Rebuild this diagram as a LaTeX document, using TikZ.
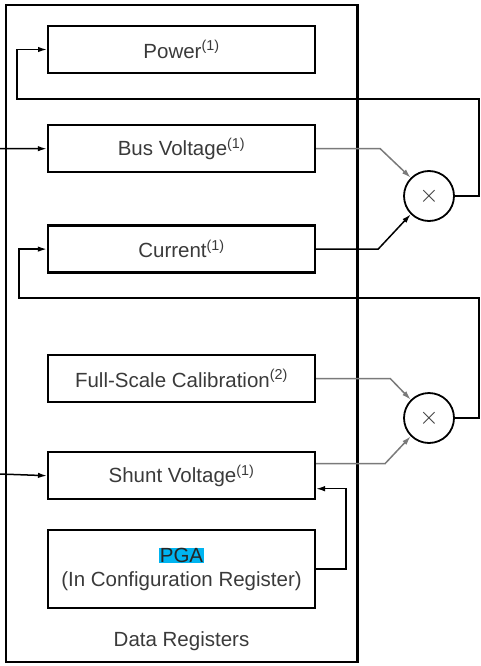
\documentclass[tikz,border=0pt]{standalone}
\usepackage{fontspec}
\setmainfont{Liberation Sans}
\usepackage{xcolor}
\usetikzlibrary{arrows.meta,positioning}
\definecolor{txt}{HTML}{3A3A3A}
\definecolor{pgablue}{RGB}{0,180,240}
\definecolor{wire}{HTML}{7A7A7A}

\begin{document}
\begin{tikzpicture}[
  x=1pt, y=-1pt,
  font=\fontsize{20.5}{25}\selectfont, text=txt,
  node distance=50pt,
  reg/.style={draw, line width=2pt, minimum width=267pt, minimum height=47pt, inner sep=0pt, align=center},
  mul/.style={circle, draw, line width=1.8pt, minimum size=50pt, inner sep=0pt, font=\fontsize{26}{26}\selectfont},
  arr/.style={-{Latex[length=9pt,width=5.5pt]}, line width=1.5pt},
  garr/.style={arr, draw=wire}
]
\useasboundingbox (0,0) rectangle (480,666);

% Data register block
\node[draw, line width=1.8pt, minimum width=351pt, minimum height=657pt] (regs) at (181.5,333.5) {};
\draw[line width=3pt] (regs.north east) -- (regs.south east);

\node[reg] (power) at (181.5,49.5) {Power\textsuperscript{(1)}};
\node[reg, line width=2.4pt, below=50pt of power] (bus) {Bus Voltage\textsuperscript{(1)}};
\node[reg, line width=2.4pt, below=51pt of bus] (current) {Current\textsuperscript{(1)}};
\node[reg, line width=2.4pt, below=80pt of current] (fsc) {Full-Scale Calibration\textsuperscript{(2)}};
\node[reg, below=48pt of fsc] (shunt) {Shunt Voltage\textsuperscript{(1)}};
\node[reg, minimum height=78pt, below=29pt of shunt] (pga)
  {{\setlength{\fboxsep}{0.5pt}\colorbox{pgablue}{\color{black!85}PGA}}\\[-1pt](In Configuration Register)};
\node[below=19pt of pga] (lbl) {Data Registers};

% Multipliers
\node[mul] (mul1) at (429,196) {$\times$};
\node[mul] (mul2) at (429,418) {$\times$};

% Inputs
\coordinate (busin) at (0,148.5);
\coordinate (shin) at (0,474);
\draw[arr] (busin) -- (bus.west);
\draw[arr] (shin) -- (shunt.west);

% Into multipliers
\draw[garr] (bus.east) -- ++(64,0) -- (mul1.135);
\draw[arr] (current.east) -- ++(62,0) -- (mul1.225);
\draw[garr] (fsc.east) -- ++(74,0) -- (mul2.135);
\draw[garr] ([yshift=12pt]shunt.east) -- ++(69,0) -- (mul2.225);

% Results fed back
\draw[arr] (mul1.east) -- ++(24,0) -- ++(0,-97) -| ([xshift=-30pt]power.west) -- (power.west);
\draw[arr] (mul2.east) -- ++(24,0) -- ++(0,-120) -| ([xshift=-28pt]current.west) -- (current.west);

% PGA setting
\draw[arr] (pga.east) -- ++(30,0) |- ([yshift=-13pt]shunt.east);
\end{tikzpicture}
\end{document}
